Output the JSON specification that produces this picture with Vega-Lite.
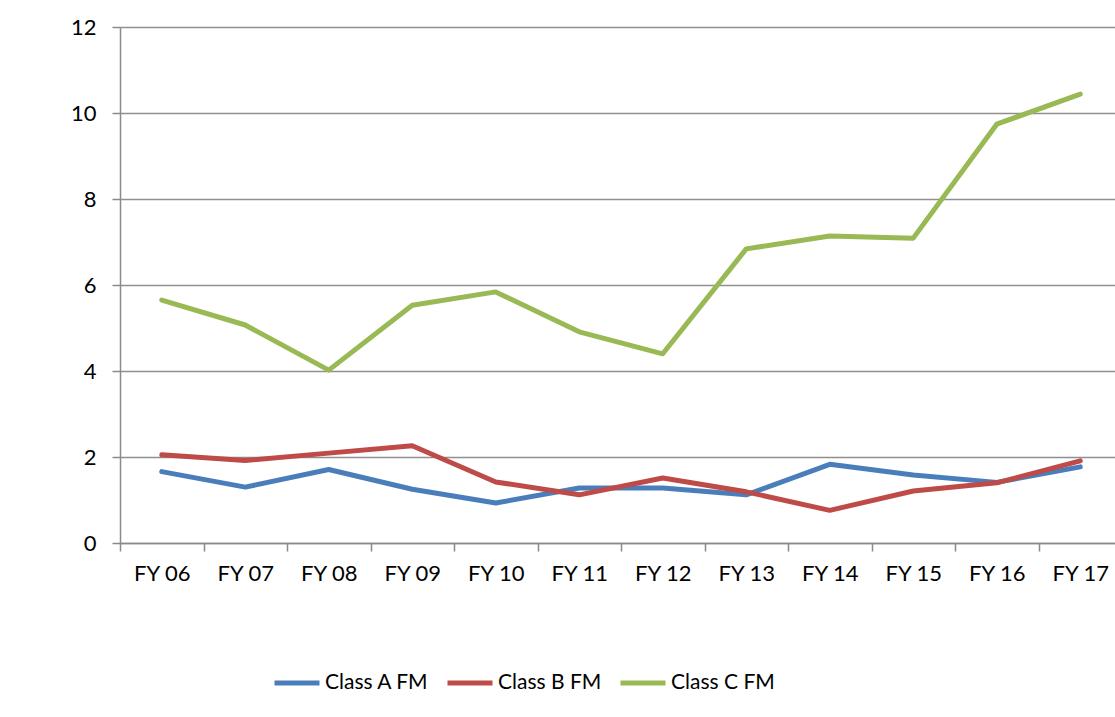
{
  "$schema": "https://vega.github.io/schema/vega-lite/v6.json",
  "autosize": "none",
  "padding": {"left": 120, "top": 27, "right": 0, "bottom": 174},
  "width": 1002,
  "height": 516,
  "background": "white",
  "config": {
    "font": "Lato",
    "view": {"stroke": null},
    "axis": {"domainColor": "#8a8a8a", "tickColor": "#8a8a8a", "gridColor": "#8f8f8f", "domainWidth": 1.5, "tickWidth": 1.5, "gridWidth": 1.5, "labelColor": "#000000", "labelFontSize": 22, "labelFont": "Lato"}
  },
  "data": {"values": [
    {"fy": "FY 06", "series": "Class A FM", "v": 1.66},
    {"fy": "FY 07", "series": "Class A FM", "v": 1.30},
    {"fy": "FY 08", "series": "Class A FM", "v": 1.71},
    {"fy": "FY 09", "series": "Class A FM", "v": 1.25},
    {"fy": "FY 10", "series": "Class A FM", "v": 0.93},
    {"fy": "FY 11", "series": "Class A FM", "v": 1.28},
    {"fy": "FY 12", "series": "Class A FM", "v": 1.28},
    {"fy": "FY 13", "series": "Class A FM", "v": 1.12},
    {"fy": "FY 14", "series": "Class A FM", "v": 1.83},
    {"fy": "FY 15", "series": "Class A FM", "v": 1.58},
    {"fy": "FY 16", "series": "Class A FM", "v": 1.41},
    {"fy": "FY 17", "series": "Class A FM", "v": 1.77},
    {"fy": "FY 06", "series": "Class B FM", "v": 2.05},
    {"fy": "FY 07", "series": "Class B FM", "v": 1.92},
    {"fy": "FY 08", "series": "Class B FM", "v": 2.09},
    {"fy": "FY 09", "series": "Class B FM", "v": 2.26},
    {"fy": "FY 10", "series": "Class B FM", "v": 1.42},
    {"fy": "FY 11", "series": "Class B FM", "v": 1.12},
    {"fy": "FY 12", "series": "Class B FM", "v": 1.51},
    {"fy": "FY 13", "series": "Class B FM", "v": 1.19},
    {"fy": "FY 14", "series": "Class B FM", "v": 0.76},
    {"fy": "FY 15", "series": "Class B FM", "v": 1.21},
    {"fy": "FY 16", "series": "Class B FM", "v": 1.40},
    {"fy": "FY 17", "series": "Class B FM", "v": 1.91},
    {"fy": "FY 06", "series": "Class C FM", "v": 5.65},
    {"fy": "FY 07", "series": "Class C FM", "v": 5.07},
    {"fy": "FY 08", "series": "Class C FM", "v": 4.02},
    {"fy": "FY 09", "series": "Class C FM", "v": 5.53},
    {"fy": "FY 10", "series": "Class C FM", "v": 5.84},
    {"fy": "FY 11", "series": "Class C FM", "v": 4.91},
    {"fy": "FY 12", "series": "Class C FM", "v": 4.40},
    {"fy": "FY 13", "series": "Class C FM", "v": 6.84},
    {"fy": "FY 14", "series": "Class C FM", "v": 7.14},
    {"fy": "FY 15", "series": "Class C FM", "v": 7.09},
    {"fy": "FY 16", "series": "Class C FM", "v": 9.74},
    {"fy": "FY 17", "series": "Class C FM", "v": 10.44}
  ]},
  "mark": {"type": "line", "strokeWidth": 5, "strokeCap": "round", "strokeJoin": "round"},
  "encoding": {
    "x": {
      "field": "fy", "type": "ordinal", "sort": null,
      "scale": {"type": "band", "paddingInner": 0, "paddingOuter": 0},
      "axis": {"title": null, "labelAngle": 0, "tickBand": "extent", "tickSize": 8, "labelPadding": 12, "grid": false, "labelBaseline": "top"}
    },
    "y": {
      "field": "v", "type": "quantitative",
      "scale": {"domain": [0, 12], "nice": false},
      "axis": {"title": null, "values": [0, 2, 4, 6, 8, 10, 12], "tickSize": 8, "labelPadding": 16, "grid": true}
    },
    "color": {
      "field": "series", "type": "nominal",
      "scale": {"domain": ["Class A FM", "Class B FM", "Class C FM"], "range": ["#4a7ebb", "#be4b48", "#98b954"]},
      "legend": {
        "title": null, "orient": "none", "legendX": 152, "legendY": 631,
        "direction": "horizontal", "columns": 3, "columnPadding": 8,
        "symbolType": "stroke", "symbolSize": 2025, "symbolStrokeWidth": 5,
        "labelFontSize": 21, "labelFont": "Lato", "labelColor": "#000000", "labelOffset": 3
      }
    }
  }
}
